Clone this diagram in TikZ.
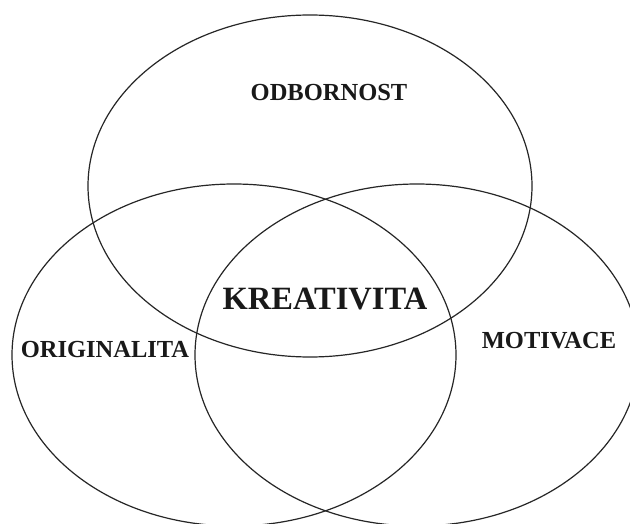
\documentclass[tikz,border=0pt]{standalone}
\usepackage{fontspec}
\setmainfont{Liberation Serif}
\usetikzlibrary{shapes.geometric}
\tikzset{
  venn/.style={ellipse, draw=black!85, line width=1.2pt, inner sep=0pt,
    minimum width=444pt, minimum height=342pt},
  lab/.style={inner sep=0pt, font=\bfseries\fontsize{24.5}{28}\selectfont, text=black!90},
  biglab/.style={inner sep=0pt, font=\bfseries\fontsize{32.5}{36}\selectfont, text=black!90}
}
\begin{document}
\begin{tikzpicture}[x=1pt,y=-1pt]
\useasboundingbox (0,0) rectangle (630,524);
\fill[white] (0,0) rectangle (630,524);
\clip (0,0) rectangle (630,524);
\node[venn] (odbornost) at (310,186) {};
\node[venn] (originalita) at (234,355) {};
\node[venn] (motivace) at (417,355) {};
\node[lab] (todb) at (329,93) {ODBORNOST};
\node[biglab] (tkre) at (325,299) {KREATIVITA};
\node[lab] (tori) at (105,350) {ORIGINALITA};
\node[lab] (tmot) at (549,341) {MOTIVACE};
\end{tikzpicture}
\end{document}
